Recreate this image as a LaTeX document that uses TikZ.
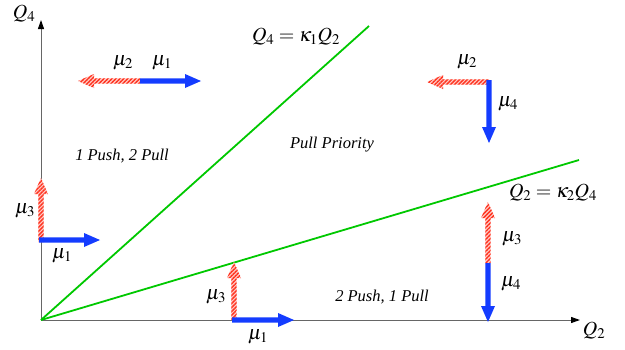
\documentclass[tikz,border=0pt]{standalone}
\usepackage{mathptmx}
\usepackage[no-math]{fontspec}
\setmainfont{Liberation Serif}
\usetikzlibrary{arrows.meta,patterns.meta}
\definecolor{myblue}{RGB}{20,60,255}
\definecolor{mygreen}{RGB}{0,200,0}
\definecolor{myred}{RGB}{255,50,30}
\tikzset{
  pics/fat/.style={code={
    \path[pic actions] (0,-2.6) -- ({#1-16},-2.6) -- ({#1-16},-7) -- (#1,0) -- ({#1-16},7) -- ({#1-16},2.6) -- (0,2.6) -- cycle;}},
  pics/fatred/.style={code={
    \fill[myred!25] (0,-2.6) -- ({#1-16},-2.6) -- ({#1-16},-7) -- (#1,0) -- ({#1-16},7) -- ({#1-16},2.6) -- (0,2.6) -- cycle;
    \path[pattern={Lines[angle=45,distance=2.8pt,line width=1.4pt]}, pattern color=myred] (0,-2.6) -- ({#1-16},-2.6) -- ({#1-16},-7) -- (#1,0) -- ({#1-16},7) -- ({#1-16},2.6) -- (0,2.6) -- cycle;}},
  bluearr/.style={fill=myblue},
  lab/.style={font=\fontsize{20}{20}\selectfont},
  reg/.style={font=\fontsize{16.5}{17}\selectfont\itshape},
  axis/.style={draw=black!60, line width=1pt, -{Stealth[length=9pt,width=6pt,inset=0pt,color=black]}},
  lineq/.style={draw=mygreen, line width=1.8pt}
}
\begin{document}
\begin{tikzpicture}[x=1pt,y=-1pt]
\useasboundingbox (0,0) rectangle (625,349);
\coordinate (O) at (41,320);
\coordinate (Y) at (41,20);
\coordinate (X) at (580,320);
\coordinate (L1) at (369,26);
\coordinate (L2) at (579,160);
\draw[axis] (O) -- (Y);
\draw[axis] (O) -- (X);
\draw[lineq] (O) -- (L1);
\draw[lineq] (O) -- (L2);
\node[lab] (q4) at (24,14) {$Q_4$};
\node[lab] (q2) at (594,331) {$Q_2$};
\node[lab] (e1) at (296,37) {$Q_4=\kappa_1 Q_2$};
\node[lab] (e2) at (553,193) {$Q_2=\kappa_2 Q_4$};
\node[reg] (r1) at (122,156) {1 Push, 2 Pull};
\node[reg] (r2) at (332,145) {Pull Priority};
\node[reg] (r3) at (382,297) {2 Push, 1 Pull};
% top-left
\pic[shift={(140,81)}, rotate=180] {fatred=62};
\pic[bluearr, shift={(140,81)}] {fat=61};
\node[lab] (a1) at (123,63) {$\mu_2$};
\node[lab] (a2) at (162,63) {$\mu_1$};
% top-right
\pic[shift={(489,82)}, rotate=180] {fatred=62};
\pic[bluearr, shift={(489,80)}, rotate=-90] {fat=63};
\node[lab] (b1) at (467,62) {$\mu_2$};
\node[lab] (b2) at (508,104) {$\mu_4$};
% left
\pic[shift={(41,242)}, rotate=90] {fatred=64};
\pic[bluearr, shift={(39,240)}] {fat=61};
\node[lab] (c1) at (25,211) {$\mu_3$};
\node[lab] (c2) at (62,256) {$\mu_1$};
% bottom
\pic[shift={(234,320)}, rotate=90] {fatred=58};
\pic[bluearr, shift={(232,320)}] {fat=62};
\node[lab] (d1) at (216,297) {$\mu_3$};
\node[lab] (d2) at (258,337) {$\mu_1$};
% right
\pic[shift={(488,263)}, rotate=90] {fatred=61};
\pic[bluearr, shift={(488,263)}, rotate=-90] {fat=59};
\node[lab] (f1) at (512,239) {$\mu_3$};
\node[lab] (f2) at (511,284) {$\mu_4$};
\end{tikzpicture}
\end{document}
